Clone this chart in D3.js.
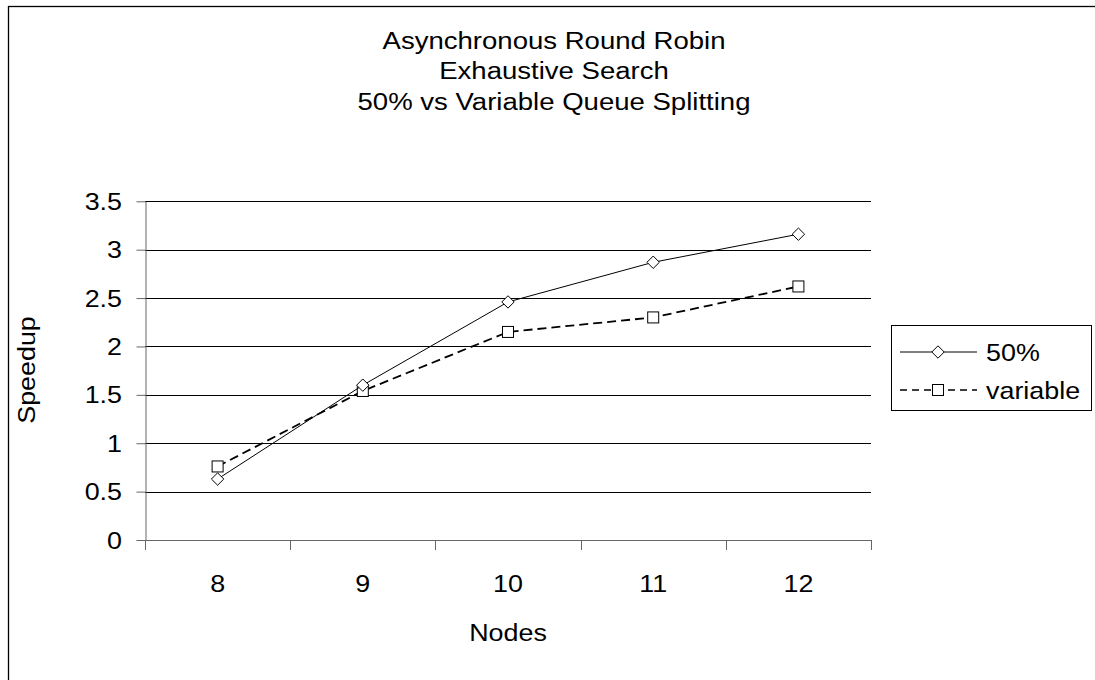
<!DOCTYPE html>
<html>
<head>
<meta charset="utf-8">
<script src="https://cdn.jsdelivr.net/npm/d3@7"></script>
<style>
  html, body { margin: 0; padding: 0; background: #fff; }
  svg { display: block; font-family: "Liberation Sans", Arial, sans-serif; }
</style>
</head>
<body>
<svg id="chart" width="1095" height="680"></svg>
<script>
// Number of nodes on the x axis
const nodes = ["8", "9", "10", "11", "12"];
// Speedup measured with 50% queue splitting
const split50 = [0.63, 1.60, 2.46, 2.87, 3.16];
// Speedup measured with variable queue splitting
const splitVariable = [0.76, 1.54, 2.15, 2.30, 2.62];
// Y tick labels
const yTicks = [0, 0.5, 1, 1.5, 2, 2.5, 3, 3.5];
const titleLines = ["Asynchronous Round Robin", "Exhaustive Search", "50% vs Variable Queue Splitting"];

const series = [
  { name: "50%", values: split50, marker: "diamond", dash: null, width: 1 },
  { name: "variable", values: splitVariable, marker: "square", dash: "9,5", width: 1.8 }
];

const svg = d3.select("#chart");
const SX = 1.12; // horizontal stretch of the lettering

function label(g, x, y, txt, size, anchor, rotate) {
  return g.append("text")
    .attr("transform", `translate(${x},${y})` + (rotate ? ` rotate(${rotate})` : "") + ` scale(${SX},1)`)
    .attr("text-anchor", anchor || "middle")
    .attr("font-size", size)
    .attr("fill", "#000")
    .text(txt);
}

// outer frame
svg.append("rect")
  .attr("x", 8.5).attr("y", 6.5)
  .attr("width", 1100).attr("height", 700)
  .attr("fill", "none").attr("stroke", "#000").attr("stroke-width", 1.3);

const plot = { left: 145, right: 871, top: 201.3, bottom: 540 };

const x = d3.scaleBand().domain(nodes).range([plot.left, plot.right]).padding(0);
const y = d3.scaleLinear().domain([0, 3.5]).range([plot.bottom, plot.top]);
const cx = d => x(d) + x.bandwidth() / 2;

// gridlines
svg.append("g").selectAll("line").data(yTicks.filter(v => v > 0)).join("line")
  .attr("x1", plot.left).attr("x2", plot.right)
  .attr("y1", d => Math.round(y(d)) + 0.5).attr("y2", d => Math.round(y(d)) + 0.5)
  .attr("stroke", "#000").attr("stroke-width", 1);

// y axis
const yAxis = svg.append("g").attr("transform", `translate(${plot.left + 0.5},0)`)
  .call(d3.axisLeft(y).tickValues(yTicks).tickSize(9).tickFormat(d3.format("")).tickSizeOuter(0));
yAxis.select(".domain").attr("stroke", "#666");
yAxis.selectAll(".tick line").attr("stroke", "#666");
yAxis.selectAll(".tick text").remove();
yTicks.forEach(v => label(svg, 122, y(v) + 8.5, String(v), 24, "end"));

// x axis with ticks on category boundaries
const xAxisG = svg.append("g");
xAxisG.append("line")
  .attr("x1", plot.left).attr("x2", plot.right)
  .attr("y1", plot.bottom + 0.5).attr("y2", plot.bottom + 0.5)
  .attr("stroke", "#666");
const bounds = nodes.map(d => x(d)).concat([x(nodes[nodes.length - 1]) + x.bandwidth()]);
xAxisG.selectAll("line.tk").data(bounds).join("line").attr("class", "tk")
  .attr("x1", d => Math.round(d) + 0.5).attr("x2", d => Math.round(d) + 0.5)
  .attr("y1", plot.bottom).attr("y2", plot.bottom + 10)
  .attr("stroke", "#666");
nodes.forEach(n => label(svg, cx(n), 592, n, 24, "middle"));

// axis titles
label(svg, 508, 641, "Nodes", 24, "middle");
label(svg, 35, 370, "Speedup", 24, "middle", -90);

// chart title
titleLines.forEach((t, i) => label(svg, 554, 48.5 + i * 30.5, t, 24.6, "middle"));

// markers
function drawMarker(g, type, px, py) {
  if (type === "diamond") {
    const r = 6.2;
    g.append("path")
      .attr("d", `M${px},${py - r}L${px + r},${py}L${px},${py + r}L${px - r},${py}Z`)
      .attr("fill", "#fff").attr("stroke", "#000").attr("stroke-width", 1);
  } else {
    const s = 11;
    g.append("rect")
      .attr("x", px - s / 2).attr("y", py - s / 2).attr("width", s).attr("height", s)
      .attr("fill", "#fff").attr("stroke", "#000").attr("stroke-width", 1);
  }
}

const line = d3.line().x((v, i) => cx(nodes[i])).y(v => y(v));

// draw the variable series first so the solid one sits on top
[series[1], series[0]].forEach(s => {
  const g = svg.append("g");
  g.append("path").attr("d", line(s.values))
    .attr("fill", "none").attr("stroke", "#000")
    .attr("stroke-width", s.width)
    .attr("stroke-dasharray", s.dash);
  s.values.forEach((v, i) => drawMarker(g, s.marker, cx(nodes[i]), y(v)));
});

// legend
const lg = svg.append("g");
lg.append("rect").attr("x", 891.5).attr("y", 325.5).attr("width", 200).attr("height", 85)
  .attr("fill", "#fff").attr("stroke", "#000").attr("stroke-width", 1);
series.forEach((s, i) => {
  const ly = 352 + i * 38;
  lg.append("line").attr("x1", 900).attr("x2", 977).attr("y1", ly).attr("y2", ly)
    .attr("stroke", "#000").attr("stroke-width", s.dash ? 1.3 : 1)
    .attr("stroke-dasharray", s.dash ? "7,5" : null);
  drawMarker(lg, s.marker, 938, ly);
  label(lg, 986, ly + 8.5, s.name, 24, "start");
});
</script>
</body>
</html>
